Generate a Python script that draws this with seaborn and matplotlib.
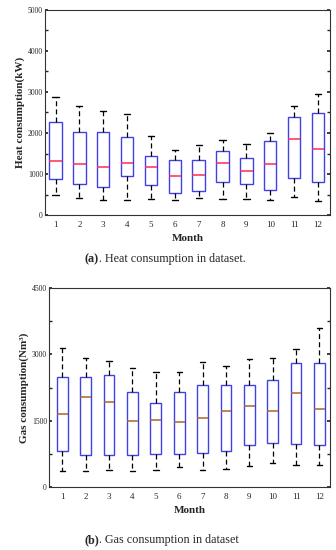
#!/usr/bin/env python3
import matplotlib
matplotlib.use("Agg")
import matplotlib.pyplot as plt
import pandas as pd
import seaborn as sns

MONTHS = list(range(1, 13))

# heat consumption (kW): whisker low, Q1, median, Q3, whisker high
heat_low = [488, 423, 374, 374, 398, 374, 406, 398, 398, 374, 447, 341]
heat_q1 = [878, 756, 675, 951, 732, 545, 577, 805, 756, 602, 911, 797]
heat_med = [1317, 1244, 1163, 1260, 1171, 951, 976, 1276, 1073, 1236, 1862, 1610]
heat_q3 = [2260, 2024, 2024, 1911, 1447, 1341, 1333, 1569, 1382, 1813, 2398, 2496]
heat_high = [2886, 2667, 2545, 2455, 1935, 1577, 1715, 1829, 1732, 2008, 2667, 2951]

# gas consumption (Nm3)
gas_low = [368, 368, 383, 368, 383, 458, 383, 405, 480, 533, 495, 503]
gas_q1 = [810, 735, 713, 720, 743, 750, 773, 818, 945, 990, 968, 960]
gas_med = [1658, 2025, 1928, 1485, 1508, 1463, 1560, 1718, 1823, 1718, 2130, 1755]
gas_q3 = [2483, 2483, 2543, 2145, 1905, 2153, 2310, 2303, 2303, 2430, 2798, 2798]
gas_high = [3135, 2925, 2850, 2693, 2610, 2595, 2828, 2738, 2888, 2925, 3128, 3593]


def to_frame(*cols):
    # five points per month -> quartiles land exactly on the given values
    rows = []
    for i, m in enumerate(MONTHS):
        for c in cols:
            rows.append({"month": str(m), "value": c[i]})
    return pd.DataFrame(rows)


def draw(ax, df, width, median_color, ylim, major, minor, xlim):
    sns.boxplot(
        data=df, x="month", y="value", ax=ax, whis=(0, 100), width=width,
        color="white", linecolor="#4040e6", linewidth=1.0, showfliers=False,
        whiskerprops={"color": "black", "linestyle": (0, (4, 2.5)), "linewidth": 0.9},
        capprops={"color": "black", "linewidth": 1.0},
        medianprops={"color": median_color, "linewidth": 1.1},
    )
    ax.set_ylim(*ylim)
    ax.set_xlim(*xlim)
    ax.set_yticks(major)
    ax.set_yticks(minor, minor=True)
    ax.tick_params(axis="y", which="both", direction="in", right=True, left=True,
                   labelsize=5.5, length=2.5, pad=1.5)
    ax.tick_params(axis="x", direction="in", labelsize=6.5, length=0, pad=4)
    for s in ax.spines.values():
        s.set_visible(True)
        s.set_color("#333333")
        s.set_linewidth(0.8)
    ax.set_xlabel("Month", fontsize=8, fontweight="bold", labelpad=4)


sns.set_theme(style="ticks")
plt.rcParams["font.family"] = ["Liberation Serif", "DejaVu Serif"]

fig = plt.figure(figsize=(3.36, 5.5), dpi=100)
ax1 = fig.add_axes([0.134, 0.609, 0.848, 0.373])
ax2 = fig.add_axes([0.146, 0.1145, 0.836, 0.3618])

heat = to_frame(heat_low, heat_q1, heat_med, heat_q3, heat_high)
gas = to_frame(gas_low, gas_q1, gas_med, gas_q3, gas_high)

draw(ax1, heat, 0.52, "#ff2a55", (0, 5000), range(0, 5001, 1000),
     range(500, 5000, 1000), (-0.44, 11.5))
ax1.set_ylabel("Heat consumption(kW)", fontsize=8, fontweight="bold", labelpad=2)

draw(ax2, gas, 0.46, "#a8642c", (0, 4500), range(0, 4501, 1500),
     range(750, 4500, 1500), (-0.57, 11.45))
ax2.set_ylabel("Gas consumption(Nm³)", fontsize=8, fontweight="bold", labelpad=2)

# captions: bold "(a)" followed by plain text
for y, label, rest in [(0.523, "(a)", ". Heat consumption in dataset."),
                       (0.013, "(b)", ". Gas consumption in dataset")]:
    t = fig.text(0.252, y, label, fontsize=8.7, fontweight="bold", va="baseline")
    ax1.annotate(rest, xy=(1, 0), xycoords=t, fontsize=8.7, va="bottom",
                 annotation_clip=False)

fig.savefig("out.png", dpi=100)
